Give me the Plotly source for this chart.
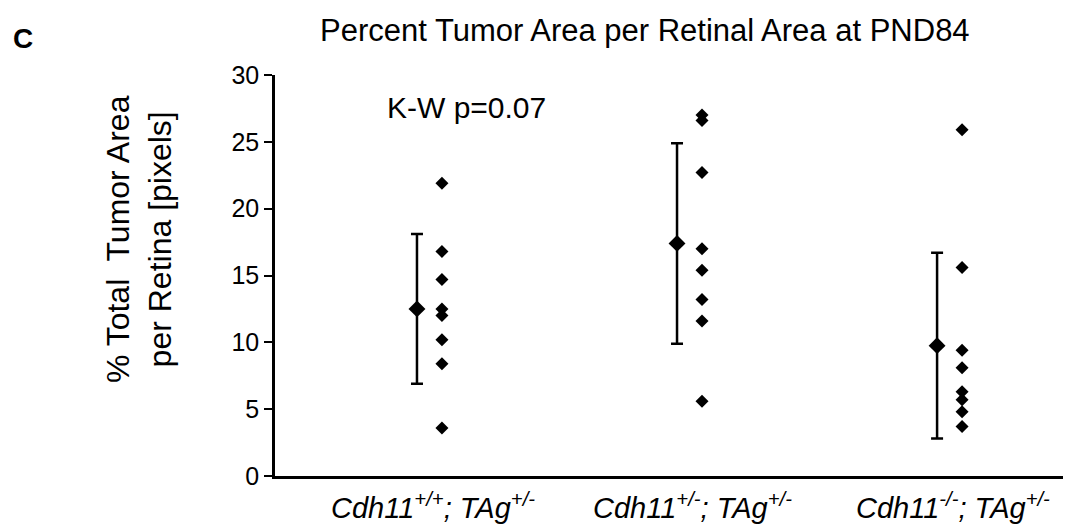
import plotly.graph_objects as go

# ---- data ----
groups = ["Cdh11+/+;TAg+/-", "Cdh11+/-;TAg+/-", "Cdh11-/-;TAg+/-"]
tick_labels = [
    "<i>Cdh11<sup>+/+</sup>; TAg<sup>+/-</sup></i>",
    "<i>Cdh11<sup>+/-</sup>; TAg<sup>+/-</sup></i>",
    "<i>Cdh11<sup>-/-</sup>; TAg<sup>+/-</sup></i>",
]
g1_values = [21.9, 16.8, 14.7, 12.5, 12.0, 10.2, 8.4, 3.6]
g2_values = [27.0, 26.6, 22.7, 17.0, 15.4, 13.2, 11.6, 5.6]
g3_values = [25.9, 15.6, 9.4, 8.1, 6.3, 5.7, 4.8, 3.7]
group_means = [12.5, 17.4, 9.75]
group_sd = [5.6, 7.5, 6.95]
y_ticks = [0, 5, 10, 15, 20, 25, 30]

FONT = "Liberation Sans, Arial, Helvetica, sans-serif"
positions = [1, 2, 3]
mean_offset = -0.05
pt_offset = 0.046

fig = go.Figure()

for pos, vals in zip(positions, [g1_values, g2_values, g3_values]):
    fig.add_trace(go.Scatter(
        x=[pos + pt_offset] * len(vals), y=vals, mode="markers",
        marker=dict(symbol="diamond", size=10, color="black"),
        showlegend=False, hoverinfo="y"))

fig.add_trace(go.Scatter(
    x=[p + mean_offset for p in positions], y=group_means, mode="markers",
    marker=dict(symbol="diamond", size=13, color="black"),
    error_y=dict(type="data", array=group_sd, visible=True, color="black",
                 thickness=2.5, width=6),
    showlegend=False, hoverinfo="y"))

# page body has an 8px default margin, so the figure is 8px smaller
fig.update_layout(
    width=1063, height=524,
    margin=dict(l=267, r=0, t=67, b=56),
    paper_bgcolor="white", plot_bgcolor="white",
    font=dict(family=FONT, color="black"),
    showlegend=False,
)

fig.update_xaxes(
    range=[0.404, 3.465], tickvals=positions, showticklabels=False,
    showline=True, linecolor="black", linewidth=2.5, ticks="",
    showgrid=False, zeroline=False, automargin=False,
)
fig.update_yaxes(
    range=[0, 30], tickvals=y_ticks, showline=True, linecolor="black",
    linewidth=2.5, ticks="outside", ticklen=8, tickwidth=2, tickcolor="black",
    showgrid=False, zeroline=False, tickfont=dict(size=25, family=FONT),
    automargin=False,
)

for pos, lab in zip(positions, tick_labels):
    fig.add_annotation(text=lab, xref="x", yref="paper", x=pos + 0.01,
                       y=-0.026, xanchor="center", yanchor="top",
                       showarrow=False, font=dict(size=29, family=FONT))

fig.add_annotation(text="Percent Tumor Area per Retinal Area at PND84",
                   xref="paper", yref="paper", x=0.465, y=1.112,
                   xanchor="center", yanchor="middle", showarrow=False,
                   font=dict(size=31, family=FONT))
fig.add_annotation(text="<b>C</b>", xref="paper", yref="paper",
                   x=-0.316, y=1.09, xanchor="center", yanchor="middle",
                   showarrow=False, font=dict(size=28, family=FONT))
fig.add_annotation(text="K-W p=0.07", xref="x", yref="y", x=1.142, y=27.6,
                   xanchor="center", yanchor="middle", showarrow=False,
                   font=dict(size=30, family=FONT))
fig.add_annotation(text="% Total  Tumor Area<br>per Retina [pixels]",
                   xref="paper", yref="paper", x=-0.17, y=0.59,
                   xanchor="center", yanchor="middle", textangle=-90,
                   showarrow=False, font=dict(size=32, family=FONT))

fig.write_html("out.html")
